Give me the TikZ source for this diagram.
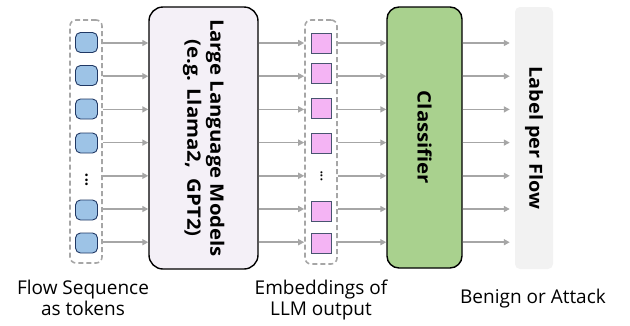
\documentclass[tikz,border=0pt]{standalone}
\usepackage{fontspec}
\usepackage{graphicx}
\setmainfont{Open Sans}
\newfontfamily\widebold{Open Sans}[FakeStretch=1.1]
\usetikzlibrary{arrows.meta}
\definecolor{tokfill}{HTML}{9DC3E6}
\definecolor{tokdraw}{HTML}{203864}
\definecolor{pinkfill}{HTML}{F4B4F4}
\definecolor{pinkdraw}{HTML}{485470}
\definecolor{llmfill}{HTML}{F4F0F7}
\definecolor{clsfill}{HTML}{A9D18E}
\definecolor{linegray}{HTML}{A6A6A6}
\definecolor{labfill}{HTML}{F2F2F2}
\begin{document}
\begin{tikzpicture}[x=1pt,y=-1pt,
  tok/.style={draw=tokdraw, line width=0.9pt, fill=tokfill, rounded corners=5pt, minimum width=22pt, minimum height=20pt, inner sep=0pt},
  emb/.style={draw=pinkdraw, line width=0.9pt, fill=pinkfill, minimum width=20pt, minimum height=20pt, inner sep=0pt},
  grp/.style={draw=linegray, dashed, dash pattern=on 5pt off 3pt, line width=1.6pt, rounded corners=6pt, minimum width=32pt, inner sep=0pt},
  bigbox/.style={draw=black, line width=1.4pt, rounded corners=14pt, inner sep=0pt, font=\widebold\bfseries\fontsize{18.5}{23}\selectfont},
  arr/.style={draw=linegray, line width=1.5pt, -{Triangle[length=6pt,width=6pt]}},
  lbl/.style={align=center, inner sep=0pt, font=\fontsize{19}{21}\selectfont}
]
\useasboundingbox (0,0) rectangle (630,325);
% row coordinates
\coordinate (r1) at (0,43);
\coordinate (r2) at (0,76.2);
\coordinate (r3) at (0,109.4);
\coordinate (r4) at (0,142.6);
\coordinate (r5) at (0,175.8);
\coordinate (r6) at (0,209);
\coordinate (r7) at (0,242.2);
% left group
\node[grp, minimum height=243pt] (g1) at (86,141.5) {};
\node[tok] (t1) at (86.5,42.5) {};
\node[tok] (t2) at (86.5,75.5) {};
\node[tok] (t3) at (86.5,109) {};
\node[tok] (t4) at (86.5,143) {};
\node[inner sep=0pt] (d1) at (86.5,180) {\rotatebox{90}{\bfseries\fontsize{15}{15}\selectfont ...}};
\node[tok] (t6) at (86.5,210) {};
\node[tok] (t7) at (86.5,243) {};
% LLM
\node[bigbox, fill=llmfill, minimum width=109pt, minimum height=262pt] (llm) at (203.5,138)
  {\rotatebox{-90}{\begin{tabular}{@{}c@{}}Large Language Models\\(e.g. Llama2,\ \ GPT2)\end{tabular}}};
% embeddings group
\node[grp, minimum height=244pt] (g2) at (321,142) {};
\node[emb] (e1) at (321.5,43) {};
\node[emb] (e2) at (321.5,73) {};
\node[emb] (e3) at (321.5,108) {};
\node[emb] (e4) at (321.5,143) {};
\node[inner sep=0pt] (d2) at (321.5,176) {\rotatebox{90}{\bfseries\fontsize{12}{12}\selectfont ...}};
\node[emb] (e6) at (321.5,211.5) {};
\node[emb] (e7) at (321.5,243) {};
% classifier
\node[bigbox, fill=clsfill, rounded corners=12pt, minimum width=75pt, minimum height=261pt] (cls) at (424.5,137.5)
  {\rotatebox{-90}{Classifier}};
% label box
\node[fill=labfill, rounded corners=5pt, inner sep=0pt, minimum width=38pt, minimum height=262pt, font=\widebold\bfseries\fontsize{18}{22}\selectfont] (lab) at (534,138)
  {\rotatebox{-90}{Label per Flow}};
% arrows
\foreach \r in {r1,r2,r3,r4,r5,r6,r7}{
  \draw[arr] (g1.east |- \r) -- (llm.west |- \r);
  \draw[arr] (llm.east |- \r) -- (g2.west |- \r);
  \draw[arr] (g2.east |- \r) -- (cls.west |- \r);
  \draw[arr] (cls.east |- \r) -- ([xshift=-5pt]lab.west |- \r);
}
% bottom labels
\node[lbl, anchor=north] (c1) at (83,280) {Flow Sequence\\as tokens};
\node[lbl, anchor=north] (c2) at (321,280) {Embeddings of\\LLM output};
\node[lbl] (c3) at (533,299) {Benign or Attack};
\end{tikzpicture}
\end{document}
